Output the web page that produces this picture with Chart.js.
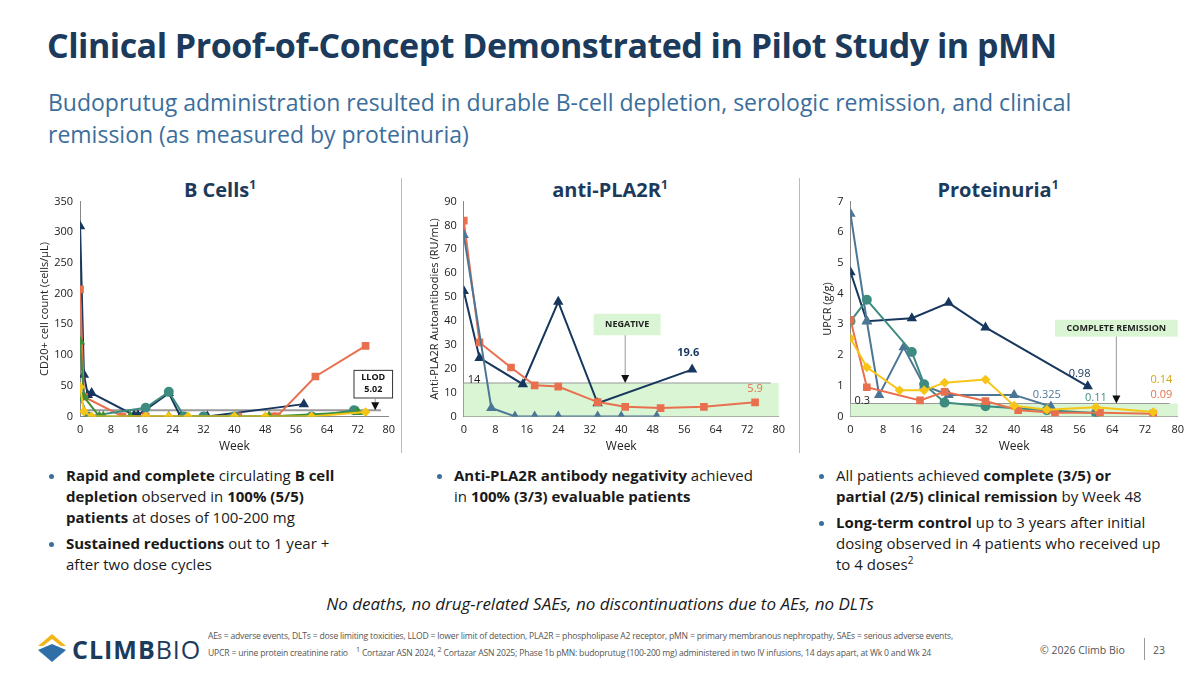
<!DOCTYPE html>
<html><head><meta charset="utf-8">
<script src="https://cdn.jsdelivr.net/npm/chart.js@4"></script>
<style>
body{margin:0;width:1200px;height:675px;position:relative;font-family:"Open Sans",sans-serif;background:#fff;overflow:hidden;color:#1a1a1a}
.a{position:absolute}
h1{position:absolute;left:47px;top:22px;margin:0;font-family:"Open Sans",sans-serif;font-size:34px;font-weight:700;color:#1B3A5C;letter-spacing:-0.5px}
.sub{left:48px;top:86px;font-family:"Open Sans",sans-serif;font-size:23px;color:#3C6E9C;line-height:32px;width:1080px}
.ct{font-family:"Open Sans",sans-serif;font-weight:700;font-size:20px;color:#1B3A5C;text-align:center;width:300px}
.ct sup{font-size:12px}
.div{width:1px;background:#bbb;top:178px;height:275px}
ul{position:absolute;margin:0;padding-left:16px;font-family:"Open Sans",sans-serif;font-size:15px;line-height:21px;color:#1a1a1a}
li{margin-bottom:5px}
li::marker{color:#3C6E9C}
b{font-weight:700}
.it{left:0;width:1200px;text-align:center;top:592px;font-family:"Open Sans",sans-serif;font-style:italic;font-size:17px}
.foot{left:208px;top:630px;font-family:"Open Sans",sans-serif;font-size:8.6px;color:#555;line-height:13px;letter-spacing:-0.2px}
</style></head><body>
<h1>Clinical Proof-of-Concept Demonstrated in Pilot Study in pMN</h1>
<div class="a sub">Budoprutug administration resulted in durable B-cell depletion, serologic remission, and clinical remission (as measured by proteinuria)</div>
<div class="a ct" style="left:70px;top:176px">B Cells<sup>1</sup></div>
<div class="a ct" style="left:460px;top:176px">anti-PLA2R<sup>1</sup></div>
<div class="a ct" style="left:848px;top:176px">Proteinuria<sup>1</sup></div>
<div class="a div" style="left:401px"></div>
<div class="a div" style="left:799px"></div>
<div class="a" style="left:22px;top:192px;width:376px;height:262px"><canvas id="c1"></canvas></div>
<div class="a" style="left:410px;top:192px;width:378px;height:262px"><canvas id="c2"></canvas></div>
<div class="a" style="left:797px;top:192px;width:390px;height:262px"><canvas id="c3"></canvas></div>
<ul style="left:50px;top:465px;width:300px"><li><b>Rapid and complete</b> circulating <b>B cell depletion</b> observed in <b>100% (5/5) patients</b> at doses of 100-200 mg</li><li><b>Sustained reductions</b> out to 1 year + after two dose cycles</li></ul>
<ul style="left:438px;top:465px;width:305px"><li><b>Anti-PLA2R antibody negativity</b> achieved in <b>100% (3/3) evaluable patients</b></li></ul>
<ul style="left:820px;top:465px;width:325px"><li>All patients achieved <b>complete (3/5) or partial (2/5) clinical remission</b> by Week 48</li><li><b>Long-term control</b> up to 3 years after initial dosing observed in 4 patients who received up to 4 doses<sup style="font-size:10px;line-height:0">2</sup></li></ul>
<div class="a it">No deaths, no drug-related SAEs, no discontinuations due to AEs, no DLTs</div>
<svg class="a" style="left:36px;top:630px" width="32" height="36" viewBox="0 0 32 36"><path d="M2 16 L16 4 L30 16 L25 16 L16 9 L7 16Z" fill="#F2B51C"/><path d="M2 20 L16 32 L30 20 L16 14Z" fill="#2E6FA8"/></svg>
<div class="a" style="left:72px;top:632px;font-family:'Open Sans',sans-serif;font-size:25px;letter-spacing:1px;color:#1B3A5C"><b>CLIMB</b>BIO</div>
<div class="a foot">AEs = adverse events, DLTs = dose limiting toxicities, LLOD = lower limit of detection, PLA2R = phospholipase A2 receptor, pMN = primary membranous nephropathy, SAEs = serious adverse events,<br>UPCR = urine protein creatinine ratio &nbsp;&nbsp; <sup>1</sup> Cortazar ASN 2024, <sup>2</sup> Cortazar ASN 2025; Phase 1b pMN: budoprutug (100-200 mg) administered in two IV infusions, 14 days apart, at Wk 0 and Wk 24</div>
<div class="a" style="left:1040px;top:643px;font-size:10.5px;color:#555">© 2026 Climb Bio</div>
<div class="a" style="left:1144px;top:638px;width:1px;height:22px;background:#999"></div>
<div class="a" style="left:1153px;top:643px;font-size:10.5px;color:#555">23</div>
<script>
const weeksTicks=[0,8,16,24,32,40,48,56,64,72,80];
// Chart 1: B cells
const b_navyX=[0,1,2,3,14,15,23,26,33,58], b_navyY=[310,68,35,38,2,2,38,0,0,20];
const b_orangeX=[0,1,11,17,41,50,51,61,74], b_orangeY=[207,32,0,0,0,0,0,65,115];
const b_tealX=[0,2,17,23,27,32,40,60,71], b_tealY=[32,0,14,40,0,0,0,0,10];
const b_greenX=[0,1,5,6,13,23,49,72], b_greenY=[122,32,0,0,0,0,0,7];
const b_yellowX=[0,1,3,17,23,28,40,48,60,74], b_yellowY=[48,8,0,0,0,0,0,0,0,7];
// Chart 2: anti-PLA2R
const p_orangeX=[0,4,12,18,24,34,41,50,61,74], p_orangeY=[82,31,20.5,13,12.5,6,4,3.5,4,5.9];
const p_navyX=[0,4,15,24,34,58], p_navyY=[52.5,24.5,13.5,48,5.5,19.6];
const p_steelX=[0,7,13,18,24,34,40,49], p_steelY=[76,3.5,0,0,0,0,0,0];
// Chart 3: UPCR
const u_navyX=[0,4,15,24,33,58], u_navyY=[4.7,3.1,3.2,3.7,2.9,0.98];
const u_steelX=[0,4,7,13,18,24,40,49], u_steelY=[6.6,3.1,0.7,2.25,1.0,0.7,0.7,0.325];
const u_tealX=[0,4,15,18,23,33,48,60], u_tealY=[3.1,3.8,2.1,1.05,0.45,0.33,0.2,0.11];
const u_orangeX=[0,4,17,23,33,41,50,61,74], u_orangeY=[3.15,0.95,0.52,0.8,0.5,0.2,0.12,0.12,0.09];
const u_yellowX=[0,4,12,18,23,33,40,48,60,74], u_yellowY=[2.55,1.6,0.85,0.85,1.1,1.2,0.35,0.22,0.3,0.14];

const C={navy:'#17375E',orange:'#E8704F',teal:'#3E8C80',green:'#3E8E3A',yellow:'#F7C516',steel:'#4C7696'};
const pts=(xs,ys)=>xs.map((x,i)=>({x,y:ys[i]}));
function ds(xs,ys,col,style){return{data:pts(xs,ys),borderColor:col,backgroundColor:col,pointStyle:style,pointRadius:style==='rectRot'?3.5:4,borderWidth:2,showLine:true,tension:0};}
const F='"Open Sans",sans-serif';
function opts(ymax,ystep,ylabel,padL){return{responsive:true,maintainAspectRatio:false,animation:false,
 layout:{padding:{left:padL,right:4,top:4}},
 plugins:{legend:{display:false},tooltip:{enabled:false}},
 scales:{x:{type:'linear',min:0,max:80,afterBuildTicks:a=>{a.ticks=weeksTicks.map(v=>({value:v}))},grid:{display:false,drawTicks:true,tickLength:4},border:{color:'#888'},
   ticks:{font:{family:F,size:11},color:'#222'},title:{display:true,text:'Week',font:{family:F,size:12},color:'#222',padding:0}},
  y:{min:0,max:ymax,ticks:{stepSize:ystep,font:{family:F,size:11},color:'#222'},grid:{display:false,tickLength:4},border:{color:'#888'},
   title:{display:true,text:ylabel,font:{family:F,size:11},color:'#222',padding:0}}}}}
function box(ctx,x,y,w,h,fill,stroke){ctx.fillStyle=fill;ctx.fillRect(x,y,w,h);if(stroke){ctx.strokeStyle=stroke;ctx.lineWidth=1;ctx.strokeRect(x,y,w,h);}}
function arrow(ctx,x,y1,y2){ctx.strokeStyle='#999';ctx.lineWidth=1;ctx.beginPath();ctx.moveTo(x,y1);ctx.lineTo(x,y2-6);ctx.stroke();ctx.fillStyle='#111';ctx.beginPath();ctx.moveTo(x-4,y2-8);ctx.lineTo(x+4,y2-8);ctx.lineTo(x,y2);ctx.fill();}
function txt(ctx,t,x,y,col,size,bold,align){ctx.fillStyle=col;ctx.font=(bold?'bold ':'')+size+'px '+F;ctx.textAlign=align||'center';ctx.textBaseline='middle';ctx.fillText(t,x,y);}
function bandPlugin(th,fill,label){return{id:'band',beforeDatasetsDraw(ch){const {ctx,chartArea:a,scales:{x,y}}=ch;const yy=y.getPixelForValue(th);ctx.save();
 if(fill){ctx.fillStyle=fill;ctx.fillRect(a.left,yy,a.right-a.left,y.getPixelForValue(0)-yy);}
 ctx.strokeStyle='#999';ctx.lineWidth=fill?1:2;ctx.beginPath();ctx.moveTo(a.left,yy);ctx.lineTo(x.getPixelForValue(78),yy);ctx.stroke();
 if(label)txt(ctx,label,a.left+4,yy-3,'#222',11,false,'left');ctx.restore();}}}
function annPlugin(fn){return{id:'ann',afterDatasetsDraw(ch){const {ctx,scales:{x,y}}=ch;ctx.save();fn(ctx,x,y);ctx.restore();}}}

new Chart(c1,{type:'scatter',data:{datasets:[ds(b_yellowX,b_yellowY,C.yellow,'rectRot'),ds(b_greenX,b_greenY,C.green,'triangle'),ds(b_tealX,b_tealY,C.teal,'circle'),ds(b_orangeX,b_orangeY,C.orange,'rect'),ds(b_navyX,b_navyY,C.navy,'triangle')]},
 options:opts(350,50,'CD20+ cell count (cells/µL)',16),plugins:[bandPlugin(10,null,null),annPlugin((ctx,x,y)=>{
  const l=x.getPixelForValue(71),t=y.getPixelForValue(75);box(ctx,l,t,x.getPixelForValue(81)-l,y.getPixelForValue(30)-t,'#fff','#333');
  txt(ctx,'LLOD',(l+x.getPixelForValue(81))/2,y.getPixelForValue(63),'#111',9,true);txt(ctx,'5.02',(l+x.getPixelForValue(81))/2,y.getPixelForValue(44),'#111',9,true);
  arrow(ctx,x.getPixelForValue(76.5),y.getPixelForValue(30),y.getPixelForValue(10));})]});

new Chart(c2,{type:'scatter',data:{datasets:[ds(p_steelX,p_steelY,C.steel,'triangle'),ds(p_orangeX,p_orangeY,C.orange,'rect'),ds(p_navyX,p_navyY,C.navy,'triangle')]},
 options:opts(90,10,'Anti-PLA2R Autoantibodies (RU/mL)',18),plugins:[bandPlugin(14,'#D9F5D3','14'),annPlugin((ctx,x,y)=>{
  const l=x.getPixelForValue(33),t=y.getPixelForValue(43);box(ctx,l,t,x.getPixelForValue(50)-l,y.getPixelForValue(34)-t,'#D9F5D3');
  txt(ctx,'NEGATIVE',x.getPixelForValue(41.5),y.getPixelForValue(38.5),'#222',9,true);
  arrow(ctx,x.getPixelForValue(41),y.getPixelForValue(34),y.getPixelForValue(14));
  txt(ctx,'19.6',x.getPixelForValue(57),y.getPixelForValue(26.5),C.navy,11,true);txt(ctx,'5.9',x.getPixelForValue(74),y.getPixelForValue(11.5),C.orange,11,false);})]});

new Chart(c3,{type:'scatter',data:{datasets:[ds(u_yellowX,u_yellowY,C.yellow,'rectRot'),ds(u_orangeX,u_orangeY,C.orange,'rect'),ds(u_tealX,u_tealY,C.teal,'circle'),ds(u_steelX,u_steelY,C.steel,'triangle'),ds(u_navyX,u_navyY,C.navy,'triangle')]},
 options:opts(7,1,'UPCR (g/g)',24),plugins:[bandPlugin(0.42,'#D9F5D3','0.3'),annPlugin((ctx,x,y)=>{
  const l=x.getPixelForValue(50),t=y.getPixelForValue(3.15);box(ctx,l,t,x.getPixelForValue(80)-l,y.getPixelForValue(2.6)-t,'#D9F5D3');
  txt(ctx,'COMPLETE REMISSION',x.getPixelForValue(65),y.getPixelForValue(2.88),'#222',9,true);
  arrow(ctx,x.getPixelForValue(65),y.getPixelForValue(2.6),y.getPixelForValue(0.42));
  txt(ctx,'0.98',x.getPixelForValue(56),y.getPixelForValue(1.4),C.navy,11,false);
  txt(ctx,'0.325',x.getPixelForValue(48),y.getPixelForValue(0.7),C.steel,11,false);
  txt(ctx,'0.11',x.getPixelForValue(60),y.getPixelForValue(0.6),C.teal,11,false);
  txt(ctx,'0.14',x.getPixelForValue(76),y.getPixelForValue(1.2),'#D4A514',11,false);
  txt(ctx,'0.09',x.getPixelForValue(76),y.getPixelForValue(0.7),C.orange,11,false);})]});
</script></body></html>
